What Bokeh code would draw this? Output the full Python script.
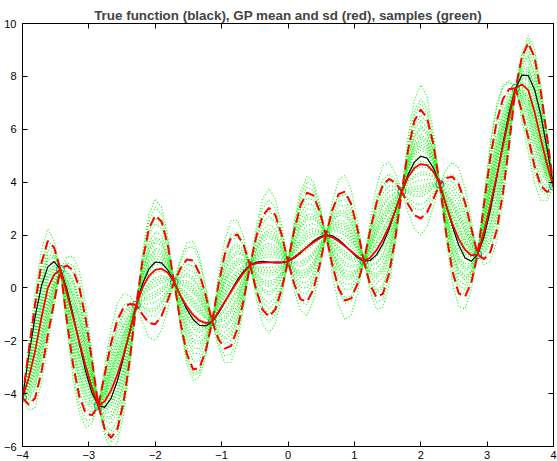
from bokeh.plotting import figure
from bokeh.models import LinearAxis, FixedTicker
from bokeh.embed import file_html
from bokeh.resources import INLINE

# ---------------- data ----------------
x_train = [-4.0, -3.4286, -2.8571, -2.2857, -1.7143, -1.1429, -0.5714, 0.0,
           0.5714, 1.1429, 1.7143, 2.2857, 2.8571, 3.4286, 4.0]
y_train = [-4.152, 0.698, -4.451, -0.650, 0.217, -1.274, 0.860, 1.000,
           2.003, 1.011, 3.645, 3.922, 1.264, 7.555, 3.848]

x_grid = [-4.0, -3.9048, -3.8095, -3.7143, -3.6190, -3.5238,
          -3.4286, -3.3333, -3.2381, -3.1429, -3.0476, -2.9524,
          -2.8571, -2.7619, -2.6667, -2.5714, -2.4762, -2.3810,
          -2.2857, -2.1905, -2.0952, -2.0, -1.9048, -1.8095,
          -1.7143, -1.6190, -1.5238, -1.4286, -1.3333, -1.2381,
          -1.1429, -1.0476, -0.9524, -0.8571, -0.7619, -0.6667,
          -0.5714, -0.4762, -0.3810, -0.2857, -0.1905, -0.0952,
          0.0, 0.0952, 0.1905, 0.2857, 0.3810, 0.4762,
          0.5714, 0.6667, 0.7619, 0.8571, 0.9524, 1.0476,
          1.1429, 1.2381, 1.3333, 1.4286, 1.5238, 1.6190,
          1.7143, 1.8095, 1.9048, 2.0, 2.0952, 2.1905,
          2.2857, 2.3810, 2.4762, 2.5714, 2.6667, 2.7619,
          2.8571, 2.9524, 3.0476, 3.1429, 3.2381, 3.3333,
          3.4286, 3.5238, 3.6190, 3.7143, 3.8095, 3.9048, 4.0]

true_f = [-4.152, -2.558, -1.085, 0.078, 0.794, 0.997,
          0.698, -0.020, -1.019, -2.127, -3.166, -3.980,
          -4.451, -4.520, -4.190, -3.522, -2.620, -1.616,
          -0.650, 0.158, 0.716, 0.979, 0.948, 0.668,
          0.217, -0.308, -0.808, -1.198, -1.418, -1.441,
          -1.274, -0.956, -0.542, -0.100, 0.310, 0.638,
          0.860, 0.974, 1.000, 0.974, 0.941, 0.940,
          1.000, 1.131, 1.322, 1.546, 1.761, 1.926,
          2.003, 1.971, 1.833, 1.615, 1.363, 1.139,
          1.011, 1.036, 1.249, 1.659, 2.239, 2.930,
          3.645, 4.287, 4.757, 4.979, 4.906, 4.538,
          3.922, 3.146, 2.333, 1.621, 1.143, 1.004,
          1.264, 1.925, 2.929, 4.159, 5.457, 6.647,
          7.555, 8.045, 8.032, 7.507, 6.534, 5.251, 3.848]

gp_mean = [-4.152, -3.398, -2.385, -1.122, -0.006, 0.497,
           0.698, -0.176, -1.116, -2.057, -2.964, -3.789,
           -4.451, -4.298, -3.888, -3.289, -2.531, -1.637,
           -0.650, 0.019, 0.453, 0.684, 0.726, 0.573,
           0.217, -0.294, -0.709, -1.027, -1.242, -1.335,
           -1.274, -0.903, -0.517, -0.134, 0.237, 0.578,
           0.860, 0.925, 0.954, 0.966, 0.970, 0.974,
           1.000, 1.165, 1.351, 1.538, 1.715, 1.877,
           2.003, 1.911, 1.760, 1.581, 1.388, 1.192,
           1.011, 1.142, 1.425, 1.830, 2.338, 2.944,
           3.645, 4.192, 4.535, 4.684, 4.643, 4.399,
           3.922, 3.125, 2.422, 1.854, 1.445, 1.226,
           1.264, 2.116, 3.131, 4.229, 5.360, 6.491,
           7.555, 7.695, 7.482, 6.657, 5.634, 4.651, 3.848]

gp_sd = [0.0, 0.515, 0.892, 1.03, 0.892, 0.515,
         0.0, 0.515, 0.892, 1.03, 0.892, 0.515,
         0.0, 0.515, 0.892, 1.03, 0.892, 0.515,
         0.0, 0.515, 0.892, 1.03, 0.892, 0.515,
         0.0, 0.515, 0.892, 1.03, 0.892, 0.515,
         0.0, 0.515, 0.892, 1.03, 0.892, 0.515,
         0.0, 0.515, 0.892, 1.03, 0.892, 0.515,
         0.0, 0.515, 0.892, 1.03, 0.892, 0.515,
         0.0, 0.515, 0.892, 1.03, 0.892, 0.515,
         0.0, 0.515, 0.892, 1.03, 0.892, 0.515,
         0.0, 0.515, 0.892, 1.03, 0.892, 0.515,
         0.0, 0.515, 0.892, 1.03, 0.892, 0.515,
         0.0, 0.515, 0.892, 1.03, 0.892, 0.515,
         0.0, 0.515, 0.892, 1.03, 0.892, 0.515, 0.0]

# sample offsets (in sd units) per gap between training points, one row per green sample
sample_offsets = [
    [1.2, -0.4, 0.8, -1.5, 0.3, 1.9, -0.7, 0.5, -1.1, 2.2, 0.1, -0.9, 1.4, -0.2],
    [-0.9, 1.6, -0.2, 0.7, -2.1, 0.4, 1.1, -1.3, 0.6, -0.5, 1.8, 0.3, -1.6, 0.9],
    [0.3, -1.8, 1.5, 0.2, 1.0, -0.8, -1.9, 2.0, -0.3, 0.9, -1.2, 1.6, 0.4, -1.4],
    [-1.6, 0.5, -1.1, 1.9, -0.4, -1.5, 0.6, 0.1, 1.7, -1.8, 0.7, -0.2, -0.8, 1.7],
    [2.0, 0.9, 0.1, -0.6, 1.6, 0.0, -0.3, -0.9, 0.9, 0.4, -2.0, 2.1, 0.8, -0.6],
    [-0.3, -1.1, 2.1, 1.1, -1.0, 1.3, 1.7, -0.4, -1.9, -1.1, 0.5, -1.5, 2.0, 0.2],
    [0.7, 2.2, -1.7, -0.1, 0.6, -2.3, 0.2, 1.4, 0.2, 1.5, -0.6, 0.8, -0.4, 1.2],
    [-1.2, -0.2, 0.5, -2.0, 2.0, 0.8, -1.2, -1.7, 1.2, -0.2, 1.1, -0.7, 0.0, -1.9],
    [0.1, 1.2, -0.6, 0.4, -0.7, -0.3, 2.3, 0.8, -0.7, 0.7, -1.5, 0.0, 1.1, 0.5],
    [1.6, -0.7, 1.0, -1.2, 0.9, 1.6, -0.9, -0.1, 2.0, -1.4, 2.9, 1.2, -1.9, -0.9],
    [-0.6, 0.3, -1.4, 1.4, -1.4, 0.5, 0.9, 1.8, -1.4, 0.0, -0.3, -1.9, 0.6, 2.1],
    [0.9, -1.5, 0.3, 0.8, 1.3, -1.1, -0.5, -1.1, 0.4, 1.9, 0.9, 0.5, -1.1, -0.3],
    [-1.9, 0.7, 1.8, -0.9, -0.2, 2.1, 0.4, 0.3, -1.0, -0.8, -0.9, 1.0, 1.7, 0.8],
    [0.5, 1.9, -0.9, 0.0, -2.4, -0.6, 1.4, -2.1, 1.5, 1.2, 0.3, -1.1, -0.2, -1.2],
    [-0.1, -0.9, 0.6, 2.3, 0.5, 1.0, -1.5, 1.1, -0.4, -1.7, 1.4, 1.8, 0.9, 1.5],
    [1.4, 0.1, -2.2, -0.4, 1.8, -1.8, 0.0, 0.6, 0.8, 0.6, -1.7, -0.4, -1.3, 0.0],
    [-1.3, 1.4, 1.2, -1.7, -0.9, 0.2, -2.2, -0.6, -2.1, 1.0, 0.6, 0.7, 0.3, 1.0],
    [0.6, -2.3, -0.3, 1.0, 0.1, -0.4, 1.9, 1.6, 0.0, -0.6, -0.1, -1.3, 1.3, -1.7],
    [-0.8, 0.4, 0.9, -0.3, 1.1, 1.2, -1.1, -1.5, 1.1, 2.0, 1.6, 0.2, -0.6, 0.4],
    [1.8, -0.5, -1.2, 0.6, -0.5, -1.0, 0.7, 2.4, -0.9, -1.2, -0.4, -0.6, 0.5, -0.8],
    [2.5, -1.2, 0.4, 2.6, -1.7, -2.6, 1.2, -2.5, 2.6, -0.3, -2.6, 1.4, -2.4, 2.3],
    [-2.4, 2.6, -2.5, -1.0, 2.5, 0.9, -2.6, 2.6, -2.7, 2.7, 1.3, -2.5, 2.5, -2.2],
    [0.0, -0.6, 1.3, -2.6, 0.8, 2.6, 0.5, -0.5, 0.5, -2.5, 2.2, 2.6, -0.1, -0.4],
    [-0.4, 1.0, -0.7, 1.7, -0.1, -1.3, -0.2, 1.0, -0.2, 0.3, -1.0, -0.8, 1.0, 0.7],
    [1.0, 0.0, 2.6, 0.3, 1.4, 0.7, 2.7, -0.8, 1.9, 1.7, 0.0, 0.4, -0.9, -1.0],
    [-1.5, -2.6, -0.5, -1.4, -1.2, 1.5, -0.4, 1.2, -0.6, -2.2, -1.1, -1.7, 0.2, 1.9],
    [0.4, 0.8, 0.2, 1.2, 2.7, -0.1, 1.0, 0.0, 1.3, 0.8, 2.4, -0.1, -1.5, 0.1],
    [-0.7, -1.4, 1.7, -0.8, -0.3, -1.6, -1.7, 2.2, -1.6, -1.0, 0.8, 0.9, 2.6, -0.5],
    [1.3, 1.5, -1.9, 0.5, 0.4, 0.3, 0.3, -1.0, 0.7, 1.3, -0.8, -1.2, -0.3, 1.4],
    [-1.0, 0.2, 0.7, -0.5, -2.2, -0.7, -0.8, 0.4, -1.2, 0.2, 1.0, 0.1, 0.7, -2.6],
]

x_ticks = [-4, -3, -2, -1, 0, 1, 2, 3, 4]
y_ticks = [-6, -4, -2, 0, 2, 4, 6, 8, 10]
title_text = "True function (black), GP mean and sd (red), samples (green)"

# ---------------- derived ----------------
upper = [m + 2 * s for m, s in zip(gp_mean, gp_sd)]
lower = [m - 2 * s for m, s in zip(gp_mean, gp_sd)]
pts_per_gap = 6
samples = []
for offs in sample_offsets:
    ys = []
    for j, (m, s) in enumerate(zip(gp_mean, gp_sd)):
        gap = min(j // pts_per_gap, len(offs) - 1)
        ys.append(m + offs[gap] * s)
    samples.append(ys)

FONT = "Liberation Sans"

p = figure(width=557, height=461, x_range=(-4, 4), y_range=(-6, 10),
           output_backend="svg", toolbar_location=None,
           min_border_left=19, min_border_right=4, min_border_top=23,
           min_border_bottom=0, background_fill_color="white",
           border_fill_color="white")
p.outline_line_color = None
p.grid.visible = False

p.title.text = title_text
p.title.align = "center"
p.title.text_font = FONT
p.title.text_font_size = "13.4px"
p.title.text_font_style = "bold"
p.title.standoff = 1

for ax in (p.xaxis[0], p.yaxis[0]):
    ax.major_tick_in = 5
    ax.major_tick_out = 0
    ax.minor_tick_line_color = None
    ax.axis_line_color = "black"
    ax.major_tick_line_color = "black"
    ax.major_label_text_font = FONT
    ax.major_label_text_font_size = "11px"
    ax.major_label_text_color = "black"
p.xaxis.ticker = FixedTicker(ticks=x_ticks)
p.yaxis.ticker = FixedTicker(ticks=y_ticks)
p.xaxis.major_label_standoff = 4
p.yaxis.major_label_standoff = 6

ax_r = LinearAxis(ticker=FixedTicker(ticks=y_ticks), major_tick_in=5, major_tick_out=0,
                  minor_tick_line_color=None, major_label_text_color=None,
                  major_label_standoff=0)
ax_t = LinearAxis(ticker=FixedTicker(ticks=x_ticks), major_tick_in=5, major_tick_out=0,
                  minor_tick_line_color=None, major_label_text_color=None,
                  major_label_standoff=0)
p.add_layout(ax_r, "right")
p.add_layout(ax_t, "above")

p.scatter(x_train, y_train, marker="circle", size=8, fill_color=None,
          line_color="#0072BD", line_width=1)
p.multi_line(xs=[x_grid] * len(samples), ys=samples, line_color="#00ff00",
             line_dash="1 2", line_width=1.1)
p.line(x_grid, true_f, line_color="black", line_width=1.2)
p.line(x_grid, gp_mean, line_color="red", line_width=1.8)
p.line(x_grid, upper, line_color="red", line_dash="10 5", line_width=2)
p.line(x_grid, lower, line_color="red", line_dash="10 5", line_width=2)

open("out.html", "w").write(file_html(p, INLINE))
